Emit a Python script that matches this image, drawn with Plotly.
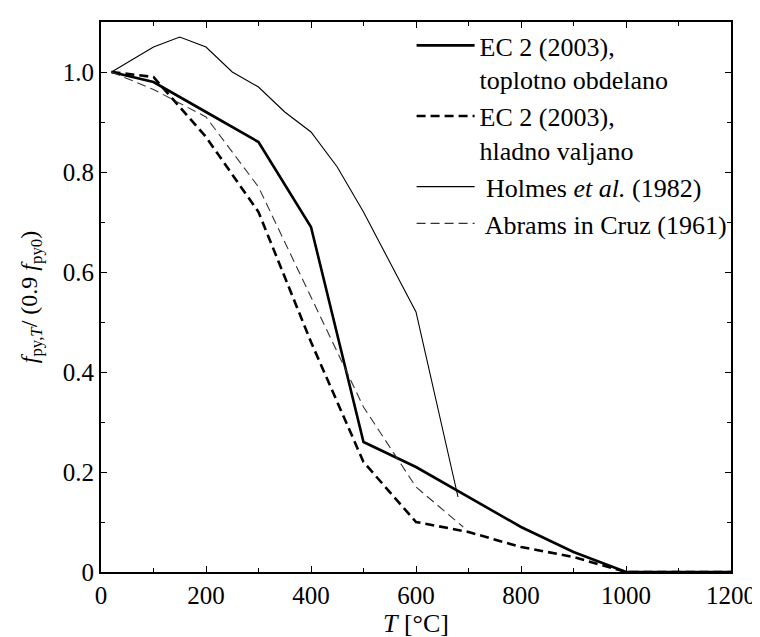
import plotly.graph_objects as go

# temperatura [°C] in relativna trdnost
t_ec2 = [20, 100, 200, 300, 400, 500, 600, 700, 800, 900, 1000, 1100, 1200]
ec2_toplotno = [1.0, 0.98, 0.92, 0.86, 0.69, 0.26, 0.21, 0.15, 0.09, 0.04, 0.0, 0.0, 0.0]
ec2_hladno = [1.0, 0.99, 0.87, 0.72, 0.46, 0.22, 0.10, 0.08, 0.05, 0.03, 0.0, 0.0, 0.0]

t_holmes = [20, 100, 150, 200, 250, 300, 350, 400, 450, 500, 550, 600, 680]
holmes = [1.0, 1.05, 1.07, 1.05, 1.0, 0.97, 0.92, 0.88, 0.81, 0.72, 0.62, 0.52, 0.15]

t_abrams = [20, 100, 200, 300, 400, 500, 600, 690]
abrams = [1.0, 0.965, 0.91, 0.77, 0.55, 0.33, 0.17, 0.09]

y_ticks = [0, 0.2, 0.4, 0.6, 0.8, 1.0]
y_ticktext = ["0", "0.2", "0.4", "0.6", "0.8", "1.0"]
x_ticks = [0, 200, 400, 600, 800, 1000, 1200]

FONT = "Liberation Serif, Times New Roman, serif"

fig = go.Figure()
fig.add_trace(go.Scatter(
    x=t_ec2, y=ec2_toplotno, mode="lines",
    name="EC 2 (2003),<br>toplotno obdelano",
    line=dict(color="black", width=2.6),
))
fig.add_trace(go.Scatter(
    x=t_ec2, y=ec2_hladno, mode="lines",
    name="EC 2 (2003),<br>hladno valjano",
    line=dict(color="black", width=2.6, dash="9px,5px"),
))
fig.add_trace(go.Scatter(
    x=t_holmes, y=holmes, mode="lines",
    name=" Holmes <i>et al.</i> (1982)",
    line=dict(color="black", width=1.1),
))
fig.add_trace(go.Scatter(
    x=t_abrams, y=abrams, mode="lines",
    name=" Abrams in Cruz (1961)",
    line=dict(color="#333", width=1.1, dash="9px,5px"),
))

axis_common = dict(
    showline=True, linecolor="black", linewidth=2,
    mirror="ticks", ticks="inside", ticklen=6, tickwidth=1, tickcolor="black",
    showgrid=False, zeroline=False,
    tickfont=dict(family=FONT, size=25, color="black"),
)

fig.update_xaxes(
    range=[0, 1200], tickvals=x_ticks, ticklabeloverflow="allow",
    minor=dict(ticks="inside", dtick=100, ticklen=4, tickcolor="black"),
    title=dict(text="<i>T</i> [°C]", font=dict(family=FONT, size=26, color="black"), standoff=0),
    **axis_common,
)
fig.update_yaxes(
    range=[0, 1.1], tickvals=y_ticks, ticktext=y_ticktext,
    minor=dict(ticks="inside", dtick=0.1, ticklen=4, tickcolor="black"),
    title=dict(
        text="<i>f</i><sub>py,<i>T</i></sub>/ (0.9 <i>f</i><sub>py0</sub>)",
        font=dict(family=FONT, size=24, color="black"), standoff=18,
    ),
    **axis_common,
)

fig.update_layout(
    width=760, height=637,
    margin=dict(l=93, r=23, t=12, b=73),
    plot_bgcolor="white", paper_bgcolor="white",
    font=dict(family=FONT, color="black"),
    legend=dict(
        x=0.493, y=1.0, xanchor="left", yanchor="top",
        bgcolor="rgba(0,0,0,0)", valign="top",
        font=dict(family=FONT, size=26, color="black"),
        tracegroupgap=0, itemwidth=58,
    ),
)

fig.write_html("out.html")
